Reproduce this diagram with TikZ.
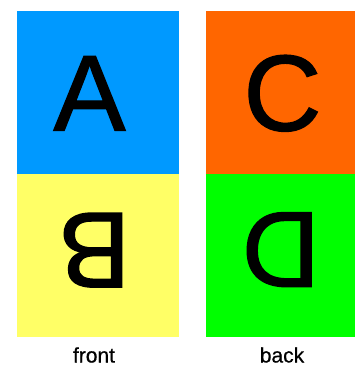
\documentclass[tikz,border=0pt]{standalone}
\usepackage{fontspec}
\setmainfont{Liberation Sans}
\newfontfamily\heavyfont{Liberation Sans}[FakeBold=1.2]
\newfontfamily\lblfont{Liberation Sans}[FakeBold=0.6]
\definecolor{cblue}{RGB}{0,153,255}
\definecolor{corange}{RGB}{255,102,0}
\definecolor{cyellow}{RGB}{255,255,102}
\definecolor{cgreen}{RGB}{0,255,0}
\tikzset{
  big/.style={inner sep=0pt, anchor=base, font=\heavyfont\fontsize{108}{108}\selectfont, text=black},
  lbl/.style={inner sep=0pt, anchor=base, font=\lblfont\fontsize{21}{21}\selectfont, text=black}
}
\begin{document}
\begin{tikzpicture}[x=1pt,y=1pt]
\useasboundingbox (0,0) rectangle (355,-365);
\fill[cblue] (17,-11) rectangle (178.5,-174);
\fill[cyellow] (17,-174) rectangle (178.5,-336.5);
\fill[corange] (206,-11) rectangle (355,-174);
\fill[cgreen] (206,-174) rectangle (355,-336.5);
\node[big] (A) at (89.5,-130.5) {A};
\node[big] (C) at (282.5,-130.5) {C};
\node[big, rotate=180] (B) at (94.5,-213) {B};
\node[big, rotate=180] (D) at (281,-212.5) {D};
\node[lbl] (front) at (94,-362.5) {front};
\node[lbl] (back) at (282,-362.5) {back};
\end{tikzpicture}
\end{document}
